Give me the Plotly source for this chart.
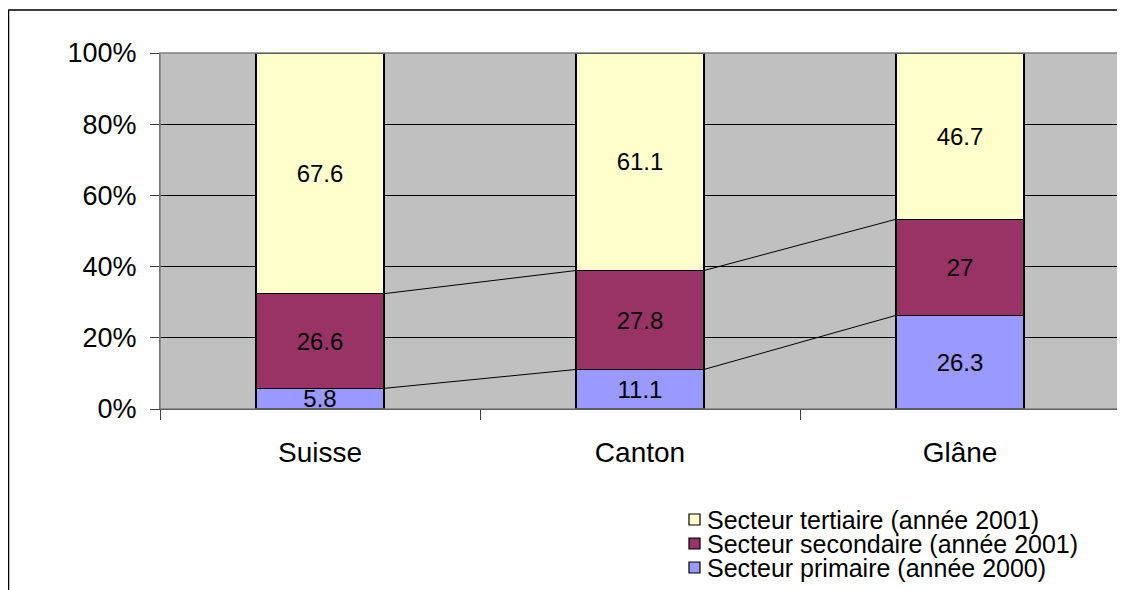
import plotly.graph_objects as go

categories = ["Suisse", "Canton", "Glâne"]
primaire = [5.8, 11.1, 26.3]
secondaire = [26.6, 27.8, 27]
tertiaire = [67.6, 61.1, 46.7]
series_names = ["Secteur primaire (année 2000)",
                "Secteur secondaire (année 2001)",
                "Secteur tertiaire (année 2001)"]
series_colors = ["#9999FF", "#993366", "#FFFFCC"]
y_ticks = [0, 20, 40, 60, 80, 100]

FONT = "Liberation Sans, Arial, sans-serif"
OFF = 8  # page body margin offset
W, H = 1125 - OFF, 590 - OFF
L, T = 160 - OFF, 53 - OFF
PW, PH = 960, 356
R, B = W - L - PW, H - T - PH
BAR_W = 0.4

def px(x):  # screen px -> paper
    return (x - OFF - L) / PW

def py(y):  # screen px (from top) -> paper
    return (T + PH - (y - OFF)) / PH

fig = go.Figure()
series = [primaire, secondaire, tertiaire]
for vals, name, col in zip(series, series_names, series_colors):
    fig.add_trace(go.Bar(
        x=categories, y=vals, name=name, width=BAR_W,
        marker=dict(color=col, line=dict(color="black", width=1.3)),
        text=[f"{v:g}" for v in vals], textposition="inside",
        insidetextanchor="middle", textangle=0, constraintext="none",
        textfont=dict(family=FONT, size=24, color="black"),
        showlegend=False, hoverinfo="skip",
    ))

# series lines connecting tops of primaire and secondaire segments
cum1 = primaire
cum2 = [a + b for a, b in zip(primaire, secondaire)]
for cum in (cum1, cum2):
    xs, ys = [], []
    for i in range(len(categories) - 1):
        xs += [i + BAR_W / 2, i + 1 - BAR_W / 2, None]
        ys += [cum[i], cum[i + 1], None]
    fig.add_trace(go.Scatter(x=xs, y=ys, xaxis="x2", mode="lines",
                             line=dict(color="black", width=1),
                             showlegend=False, hoverinfo="skip"))

shapes = []
# plot area border (gray)
shapes.append(dict(type="rect", xref="paper", yref="paper", x0=0, x1=1, y0=0, y1=1,
                   line=dict(color="#808080", width=1.5), layer="above"))
# chart frame (left + top)
shapes.append(dict(type="path", xref="paper", yref="paper",
                   path=f"M {px(8.5)},{py(H + 30)} L {px(8.5)},{py(10)} L {px(W + 30)},{py(10)}",
                   line=dict(color="black", width=1.5)))

annotations = []
# custom legend (reversed order: tertiaire on top)
leg_rows = list(zip(series_names, series_colors))[::-1]
for k, (name, col) in enumerate(leg_rows):
    yc = 519.5 + 24 * k
    shapes.append(dict(type="rect", xref="paper", yref="paper",
                       x0=px(689), x1=px(700), y0=py(yc + 5.5), y1=py(yc - 5.5),
                       fillcolor=col, line=dict(color="black", width=1.2)))
    annotations.append(dict(xref="paper", yref="paper", x=px(705), y=py(yc),
                            text=name, showarrow=False, xanchor="left", yanchor="middle",
                            font=dict(family=FONT, size=25, color="black")))

fig.update_layout(
    width=W, height=H,
    margin=dict(l=L, r=R, t=T, b=B),
    barmode="stack",
    paper_bgcolor="white", plot_bgcolor="#C0C0C0",
    showlegend=False,
    font=dict(family=FONT, color="black"),
    xaxis=dict(type="category", tickson="boundaries", ticks="outside", ticklen=10,
               tickcolor="#404040", showline=True, linecolor="black", linewidth=1,
               showgrid=False, tickfont=dict(size=28, family=FONT), range=[-0.5, 2.5],
               ticklabelstandoff=18),
    xaxis2=dict(overlaying="x", range=[-0.5, 2.5], visible=False),
    yaxis=dict(range=[0, 100], tickvals=y_ticks, ticktext=[f"{v}%" for v in y_ticks],
               ticks="outside", ticklen=9, tickcolor="#404040", showline=True,
               linecolor="#606060", showgrid=True, gridcolor="black", gridwidth=1,
               zeroline=False, tickfont=dict(size=27, family=FONT), ticklabelstandoff=8),
    shapes=shapes, annotations=annotations,
)

fig.write_html("out.html")
